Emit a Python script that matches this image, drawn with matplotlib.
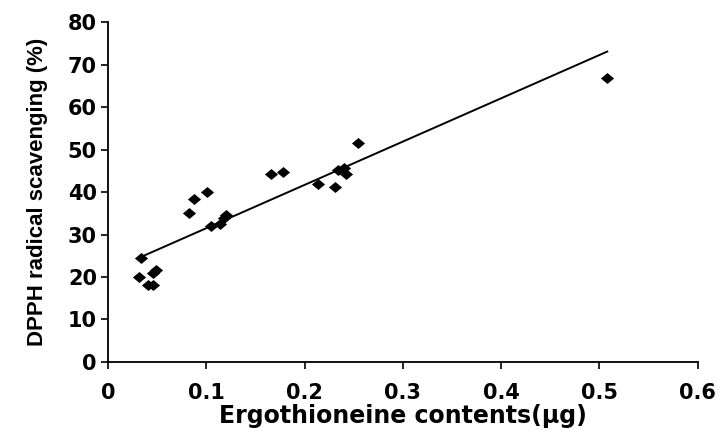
import numpy as np
import matplotlib
matplotlib.use("Agg")
import matplotlib.pyplot as plt

# values
ergo_ug = [0.034, 0.032, 0.046, 0.049, 0.041, 0.046, 0.082, 0.087, 0.101,
           0.105, 0.114, 0.118, 0.120, 0.166, 0.178, 0.214, 0.231, 0.234,
           0.240, 0.242, 0.254, 0.508]
dpph_pct = [24.4, 20.1, 20.9, 21.6, 18.1, 18.1, 35.0, 38.4, 40.1,
            32.0, 32.5, 33.8, 34.6, 44.2, 44.8, 42.0, 41.1, 45.2,
            45.7, 44.2, 51.6, 66.8]

# regression line as drawn in the figure
fit_slope = 101.9
fit_intercept = 21.3

x_ticks = [0, 0.1, 0.2, 0.3, 0.4, 0.5, 0.6]
x_tick_labels = ["0", "0.1", "0.2", "0.3", "0.4", "0.5", "0.6"]
y_ticks = [0, 10, 20, 30, 40, 50, 60, 70, 80]

plt.rcParams["font.family"] = ["DejaVu Sans"]

fig = plt.figure(figsize=(7.2, 4.33), dpi=100)
ax = fig.add_axes([0.15, 0.164, 0.819, 0.785])

# slightly wide diamond, like the original
diamond = [(-1.2, 0), (0, 1), (1.2, 0), (0, -1), (-1.2, 0)]

x = np.array(ergo_ug)
ax.scatter(x, dpph_pct, marker=diamond, s=90, color="black", zorder=3, linewidths=0)

x_line = np.array([x.min(), x.max()])
ax.plot(x_line, fit_slope * x_line + fit_intercept, color="black", linewidth=1.4)

ax.set_xlim(0, 0.6)
ax.set_ylim(0, 80)
ax.set_xticks(x_ticks)
ax.set_xticklabels(x_tick_labels)
ax.set_yticks(y_ticks)

for side in ["top", "right"]:
    ax.spines[side].set_visible(False)
for side in ["left", "bottom"]:
    ax.spines[side].set_linewidth(1.3)

ax.tick_params(direction="out", length=5, width=1.2, labelsize=15)
ax.tick_params(axis="x", pad=10)
ax.tick_params(axis="y", pad=3)
for lbl in ax.get_xticklabels() + ax.get_yticklabels():
    lbl.set_fontweight("bold")

ax.set_xlabel("Ergothioneine contents(μg)", fontsize=17, fontweight="bold", labelpad=1)
ax.set_ylabel("DPPH radical scavenging (%)", fontsize=16, fontweight="bold",
              family="Liberation Sans", labelpad=14)

plt.savefig("out.png", dpi=100)
plt.close()
